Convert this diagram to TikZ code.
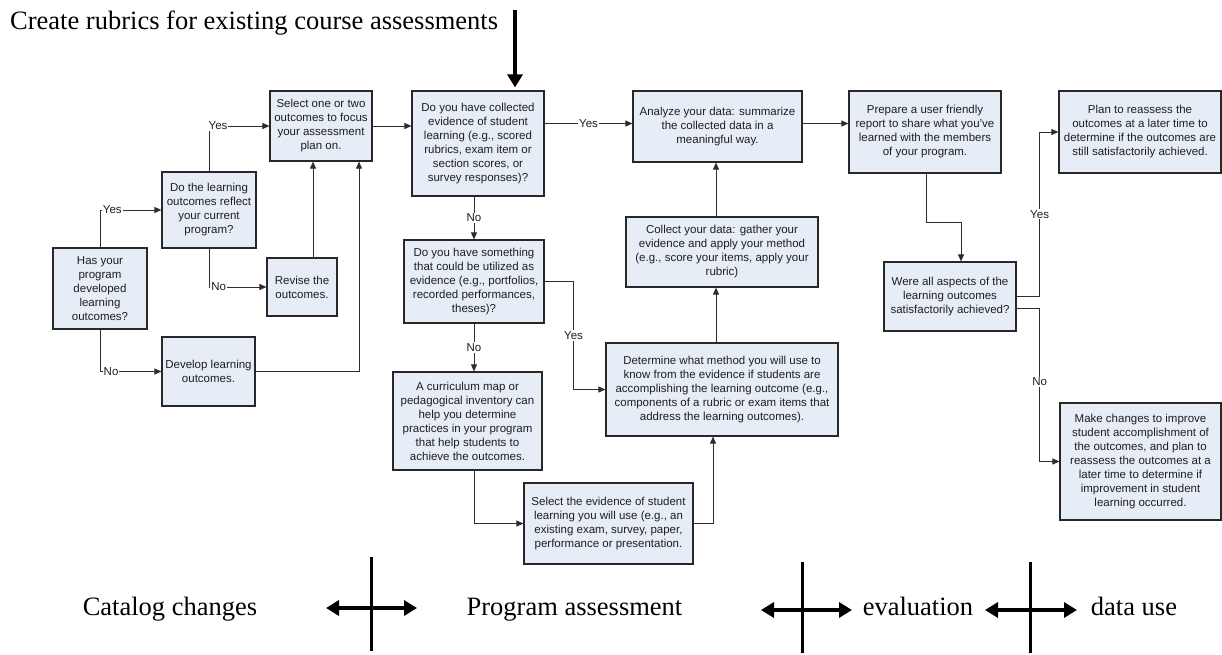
\documentclass[tikz,border=0pt]{standalone}
\usepackage{fontspec}
\setmainfont{Liberation Serif}
\newfontfamily\boxfont{Liberation Sans}
\usetikzlibrary{arrows.meta,calc}
\definecolor{boxfill}{RGB}{231,237,247}
\definecolor{boxline}{RGB}{40,40,40}
\definecolor{txt}{RGB}{30,30,30}
\definecolor{conn}{RGB}{45,45,45}
\tikzset{
  fbox/.style={draw=boxline, line width=1.2pt, fill=boxfill, align=center, inner sep=0pt,
    text=txt, font=\boxfont\fontsize{11.5}{14}\selectfont},
  arr/.style={draw=conn, line width=0.9pt, -{Triangle[length=7pt,width=6pt]}},
  lbl/.style={fill=white, inner sep=1pt, text=txt, font=\boxfont\fontsize{11.5}{14}\selectfont},
  bigtxt/.style={inner sep=0pt, font=\fontsize{26.5}{30}\selectfont, text=black},
  bigarr/.style={line width=3.5pt, -{Triangle[length=13pt,width=15pt]}},
  dblarr/.style={line width=3.5pt, {Triangle[length=13pt,width=15pt]}-{Triangle[length=13pt,width=15pt]}},
  vbar/.style={line width=3pt}
}
\begin{document}
\begin{tikzpicture}[x=1pt,y=-1pt]
\useasboundingbox (0,0) rectangle (1222,654);
\fill[white] (0,0) rectangle (1222,654);

% boxes
\node[fbox, minimum width=94pt, minimum height=81pt] (q1) at (100,288.5) {Has your\\program\\developed\\learning\\outcomes?};
\node[fbox, minimum width=94pt, minimum height=76pt] (q2) at (209,210) {Do the learning\\outcomes reflect\\your current\\program?};
\node[fbox, minimum width=102pt, minimum height=70pt] (sel) at (321,126) {Select one or two\\outcomes to focus\\your assessment\\plan on.};
\node[fbox, minimum width=70pt, minimum height=58pt] (rev) at (302,287) {Revise the\\outcomes.};
\node[fbox, minimum width=93pt, minimum height=69pt] (dev) at (208.5,371.5) {Develop learning\\outcomes.};
\node[fbox, minimum width=132pt, minimum height=105pt] (q3) at (478,143.5) {Do you have collected\\evidence of student\\learning (e.g., scored\\rubrics, exam item or\\section scores, or\\survey responses)?};
\node[fbox, minimum width=140pt, minimum height=83pt] (q4) at (474,281.5) {Do you have something\\that could be utilized as\\evidence (e.g., portfolios,\\recorded performances,\\theses)?};
\node[fbox, minimum width=149pt, minimum height=98pt] (cur) at (467.5,421) {A curriculum map or\\pedagogical inventory can\\help you determine\\practices in your program\\that help students to\\achieve the outcomes.};
\node[fbox, minimum width=232pt, minimum height=93pt] (det) at (722,389.5) {Determine what method you will use to\\know from the evidence if students are\\accomplishing the learning outcome (e.g.,\\components of a rubric or exam items that\\address the learning outcomes).};
\node[fbox, minimum width=169pt, minimum height=81pt] (sev) at (608.5,523.5) {Select the evidence of student\\learning you will use (e.g., an\\existing exam, survey, paper,\\performance or presentation.};
\node[fbox, minimum width=192pt, minimum height=70pt] (col) at (722,252) {Collect your data: gather your\\evidence and apply your method\\(e.g., score your items, apply your\\rubric)};
\node[fbox, minimum width=169pt, minimum height=71pt] (ana) at (717.5,126.5) {Analyze your data: summarize\\the collected data in a\\meaningful way.};
\node[fbox, minimum width=152pt, minimum height=82pt] (pre) at (925,132) {Prepare a user friendly\\report to share what you’ve\\learned with the members\\of your program.};
\node[fbox, minimum width=132pt, minimum height=69pt] (were) at (950,296.5) {Were all aspects of the\\learning outcomes\\satisfactorily achieved?};
\node[fbox, minimum width=162pt, minimum height=82pt] (plan) at (1140,132) {Plan to reassess the\\outcomes at a later time to\\determine if the outcomes are\\still satisfactorily achieved.};
\node[fbox, minimum width=161pt, minimum height=117pt] (make) at (1140.5,461.5) {Make changes to improve\\student accomplishment of\\the outcomes, and plan to\\reassess the outcomes at a\\later time to determine if\\improvement in student\\learning occurred.};

% connectors, left part
\draw[arr] (q1.north) |- node[lbl, pos=0.6] {Yes} (q2.west);
\draw[arr] (q1.south) |- node[lbl, pos=0.59] {No} (dev.west);
\draw[arr] (q2.north) |- node[lbl, pos=0.575] {Yes} (sel.west);
\draw[arr] (q2.south) |- node[lbl, pos=0.585] {No} (rev.west);
\draw[arr] ([xshift=11pt]rev.north) -- ([xshift=11pt]rev.north |- sel.south);
\draw[arr] (dev.east) -| ([xshift=38pt]sel.south);
\draw[arr] (sel.east) -- (sel.east -| q3.west);

% middle part
\draw[arr] ([yshift=3pt]ana.west -| q3.east) -- node[lbl] {Yes} ([yshift=3pt]ana.west);
\draw[arr] (q4.north |- q3.south) -- node[lbl] {No} (q4.north);
\draw[arr] (q4.east) -- ([xshift=29pt]q4.east) |- node[lbl, pos=0.25] {Yes} (det.west);
\draw[arr] (q4.south) -- node[lbl] {No} (q4.south |- cur.north);
\draw[arr] ([xshift=6.5pt]cur.south) |- (sev.west);
\draw[arr] (sev.east) -| ([xshift=-9pt]det.south);
\draw[arr] ([xshift=-6pt]det.north) -- ([xshift=-6pt]det.north |- col.south);
\draw[arr] ([xshift=-6pt]col.north) -- ([xshift=-6pt]col.north |- ana.south);

% right part
\draw[arr] ([yshift=3pt]ana.east) -- ([yshift=3pt]ana.east -| pre.west);
\coordinate (pbend) at (926,222);
\draw[arr] ([xshift=1pt]pre.south) -- ([xshift=1pt]pre.south |- pbend) -| ([xshift=11pt]were.north);
\draw[arr] (were.east) -- ([xshift=23pt]were.east) |- node[lbl, pos=0.25] {Yes} (plan.west);
\draw[arr] ([yshift=-11.5pt]were.east) -- ([xshift=23pt,yshift=-11.5pt]were.east) |- node[lbl, pos=0.24] {No} (make.west);

% title and top arrow
\node[bigtxt, anchor=base west] (title) at (10,29) {Create rubrics for existing course assessments};
\coordinate (ttop) at (515,10);
\draw[bigarr] (ttop) -- ([yshift=3pt]ttop |- q3.north);

% bottom legend
\node[bigtxt, anchor=base] (cat) at (170,615) {Catalog changes};
\node[bigtxt, anchor=base] (prog) at (574.5,615) {Program assessment};
\node[bigtxt, anchor=base] (eval) at (918,615) {evaluation};
\node[bigtxt, anchor=base] (duse) at (1134,615) {data use};

\coordinate (a1l) at (326,608); \coordinate (a1r) at (417,608);
\coordinate (a2l) at (761,610); \coordinate (a2r) at (852,610);
\coordinate (a3l) at (985,610); \coordinate (a3r) at (1077,610);
\draw[dblarr] (a1l) -- (a1r);
\draw[dblarr] (a2l) -- (a2r);
\draw[dblarr] (a3l) -- (a3r);
\coordinate (v1t) at (371,557); \coordinate (v1b) at (371,651);
\coordinate (v2t) at (802,562); \coordinate (v2b) at (802,653);
\coordinate (v3t) at (1030,562); \coordinate (v3b) at (1030,653);
\draw[vbar] (v1t) -- (v1b);
\draw[vbar] (v2t) -- (v2b);
\draw[vbar] (v3t) -- (v3b);
\end{tikzpicture}
\end{document}
